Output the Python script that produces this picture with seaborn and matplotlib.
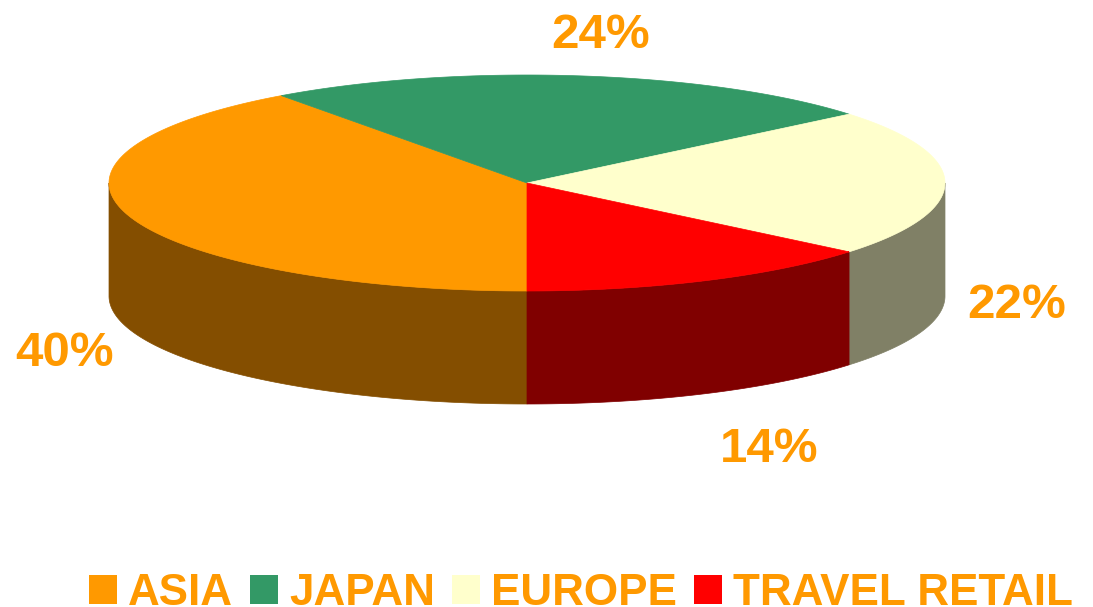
import numpy as np
import matplotlib
matplotlib.use('Agg')
import matplotlib.pyplot as plt
from matplotlib.patches import Patch
import seaborn as sns

categories = ['ASIA', 'JAPAN', 'EUROPE', 'TRAVEL RETAIL']
shares = [40, 24, 22, 14]
share_labels = ['40%', '24%', '22%', '14%']
colors = ['#FF9900', '#339966', '#FFFFCC', '#FF0000']
side_colors = ['#844E00', '#1A4D33', '#808066', '#800000']

text_color = '#FF9900'
cx, cy = 527, 183
rx, ry = 418, 108
depth = 113
start_angle = 180  # asia starts at the bottom and runs clockwise

sns.set_theme(style='white')
plt.rcParams['font.family'] = ['Liberation Sans', 'DejaVu Sans']

fig = plt.figure(figsize=(10.93, 6.07), dpi=100)
ax = fig.add_axes([0, 0, 1, 1])
ax.set_xlim(0, 1093)
ax.set_ylim(607, 0)
ax.axis('off')


def rim(a0, a1, drop=0):
    t = np.radians(np.linspace(a0, a1, 200))
    return cx + rx * np.sin(t), cy - ry * np.cos(t) + drop


angles = start_angle + np.cumsum([0] + shares) * 3.6

# side walls first, only the front half of the rim shows (90..270 deg)
for i in range(len(shares)):
    for shift in (0, 360):
        a0 = max(angles[i] - shift, 90)
        a1 = min(angles[i + 1] - shift, 270)
        if a1 <= a0:
            continue
        x_top, y_top = rim(a0, a1)
        x_bot, y_bot = rim(a1, a0, depth)
        ax.fill(np.r_[x_top, x_bot], np.r_[y_top, y_bot], color=side_colors[i], lw=0.5, zorder=1)

# top face
for i in range(len(shares)):
    x_top, y_top = rim(angles[i], angles[i + 1])
    ax.fill(np.r_[cx, x_top], np.r_[cy, y_top], color=colors[i], lw=0.5, zorder=2)

# percent labels
label_pos = [(65, 354), (601, 35), (1017, 306), (769, 449)]
for lab, (x, y) in zip(share_labels, label_pos):
    ax.text(x, y, lab, color=text_color, fontsize=35.5, fontweight='bold', ha='center', va='center')

handles = [Patch(facecolor=c, edgecolor='none') for c in colors]
ax.legend(handles, categories, loc='lower left', bbox_to_anchor=(89 / 1093, -7 / 607), ncol=4,
          frameon=False, prop={'size': 31.7, 'weight': 'bold'}, labelcolor=text_color,
          handlelength=0.64, handleheight=0.64, handletextpad=0.25, columnspacing=0.385,
          borderpad=0, borderaxespad=0)

fig.savefig('out.png', dpi=100)
